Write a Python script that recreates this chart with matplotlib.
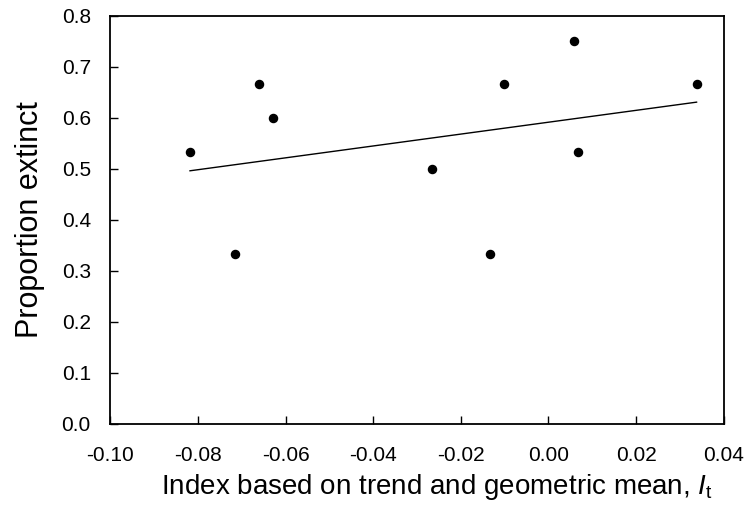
import numpy as np
import matplotlib.pyplot as plt

plt.rcParams['font.family'] = ['Liberation Sans', 'DejaVu Sans']
plt.rcParams['mathtext.fontset'] = 'custom'
plt.rcParams['mathtext.it'] = 'Liberation Sans:italic'
plt.rcParams['mathtext.rm'] = 'Liberation Sans'

# index based on trend and geometric mean vs proportion extinct
index_it = [-0.0818, -0.0715, -0.0660, -0.0628, -0.0266,
            -0.0134, -0.0102, 0.0058, 0.0067, 0.0338]
prop_extinct = [0.533, 0.333, 0.667, 0.600, 0.500,
                0.333, 0.667, 0.750, 0.533, 0.667]

xticks = [-0.10, -0.08, -0.06, -0.04, -0.02, 0.00, 0.02, 0.04]
yticks = [0.0, 0.1, 0.2, 0.3, 0.4, 0.5, 0.6, 0.7, 0.8]

fig, ax = plt.subplots(figsize=(7.5, 5.15), dpi=100)
plt.subplots_adjust(left=0.147, right=0.965, top=0.969, bottom=0.177)

x = np.array(index_it)
y = np.array(prop_extinct)
ax.scatter(x, y, s=34, color='black', zorder=3)

# least squares trend line over the data range
slope, icpt = np.polyfit(x, y, 1)
xl = np.array([x.min(), x.max()])
ax.plot(xl, slope * xl + icpt, color='black', lw=1.0)

ax.set_xlim(-0.10, 0.04)
ax.set_ylim(0.0, 0.8)
ax.set_xticks(xticks)
ax.set_xticklabels(['%.2f' % t for t in xticks])
ax.set_yticks(yticks)
ax.set_yticklabels(['%.1f' % t for t in yticks])
ax.tick_params(direction='in', length=6, width=1.0, labelsize=15)
ax.tick_params(axis='x', pad=16)
ax.tick_params(axis='y', pad=14)
for sp in ax.spines.values():
    sp.set_linewidth(1.3)

ax.set_ylabel('Proportion extinct', fontsize=22, labelpad=12)
ax.set_xlabel(r'Index based on trend and geometric mean, $\mathit{I}_{\mathrm{t}}$',
              fontsize=20, labelpad=5)
# label in the original sits a bit right of centre
ax.xaxis.label.set_x(0.532)

plt.savefig('out.png', dpi=100)
